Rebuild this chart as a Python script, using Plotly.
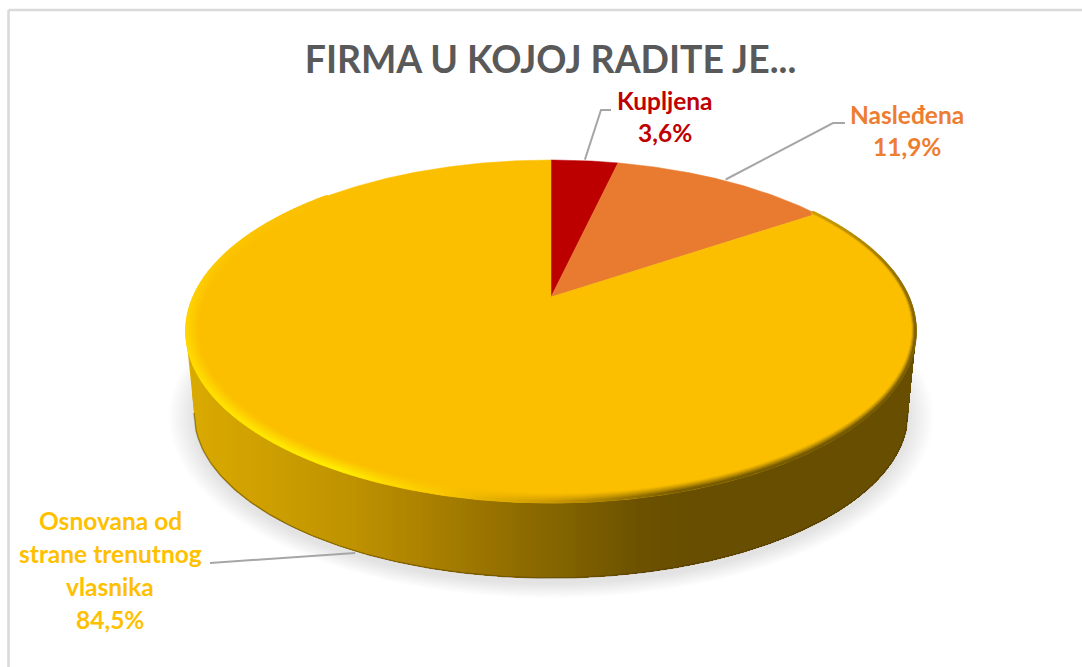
import numpy as np
import plotly.graph_objects as go

# ---- data ----
categories = ["Kupljena", "Nasleđena", "Osnovana od strane trenutnog vlasnika"]
values = [3.6, 11.9, 84.5]
percent_labels = ["3,6%", "11,9%", "84,5%"]
label_lines = [["Kupljena"], ["Nasleđena"], ["Osnovana od", "strane trenutnog", "vlasnika"]]
title_text = "FIRMA U KOJOJ RADITE JE..."

# ---- style / layout ----
W, H = 1082, 667
face_colors = ["#BC0000", "#E97B31", "#FBBF00"]
text_colors = ["#C00000", "#ED7D31", "#FFC000"]
FONT = "Lato"
CX, APEX_Y = 551, 297
A, B, K = 357.5, 164.6, 0.2012       # perspective of the disc
TOP_CY, TOP_RX, TOP_RY = 331, 365, 171.5
BOT_CY, BOT_RX, BOT_RY = 413, 357, 165
label_pos = [[(665, 100), (665, 132)], [(907, 114), (907, 146)],
             [(110, 520), (110, 553), (110, 586), (110, 619)]]
leader_elbows = [[(601, 110), (611, 110)], [(833, 123), (845, 123)], [(220, 563), (210, 563)]]
wall_stops_x = [186, 250, 293, 350, 427, 527, 560, 640, 690, 916]
wall_stops_r = [218, 208, 200, 190, 170, 140, 130, 107, 103, 103]
wall_stops_g = [170, 161, 155, 146, 128, 106, 99, 81, 78, 78]


def project(theta_deg, r=1.0):
    t = np.radians(theta_deg)
    u, v = r * np.sin(t), r * np.cos(t)
    d = 1 + K * v
    return CX + A * u / d, APEX_Y - B * v / d


fig = go.Figure()


def poly(x, y, color, opacity=1.0, lw=0.0):
    fig.add_trace(go.Scatter(x=x, y=y, mode="lines", fill="toself", fillcolor=color,
                             line=dict(color=color, width=lw), opacity=opacity,
                             hoverinfo="skip", showlegend=False))


# soft shadow
for s in np.linspace(1, 0, 14):
    a = np.linspace(0, 2 * np.pi, 240)
    poly(CX + (BOT_RX + 1 + 24 * s) * np.cos(a), BOT_CY + 4 + (BOT_RY + 2 + 14 * s) * np.sin(a),
         "#808080", 0.02)


# wall, painted strip over strip from left to right
def wall_bottom(x):
    y = np.empty_like(x, dtype=float)
    for i, xv in enumerate(x):
        dx = abs(xv - CX)
        if dx <= BOT_RX:
            y[i] = BOT_CY + BOT_RY * np.sqrt(max(0, 1 - (dx / BOT_RX) ** 2))
        else:
            y[i] = BOT_CY - (dx - BOT_RX) / (TOP_RX - BOT_RX) * (BOT_CY - TOP_CY - 4)
    return y


xs = np.arange(186, 917, 2.0)
yb = wall_bottom(xs)
for start in np.arange(186, 916, 5.0):
    m = xs >= start
    r = np.interp(start, wall_stops_x, wall_stops_r)
    g = np.interp(start, wall_stops_x, wall_stops_g)
    col = f"rgb({r:.0f},{g:.0f},0)"
    poly(np.r_[xs[m], xs[m][-1], xs[m][0]], np.r_[yb[m], TOP_CY, TOP_CY], col)
# darker rim along the bottom of the wall
fig.add_trace(go.Scatter(x=xs[4:-4], y=yb[4:-4], mode="lines",
                         line=dict(color="rgba(80,58,0,0.45)", width=1.5),
                         hoverinfo="skip", showlegend=False))

# top face slices, drawn from the values
cum = np.r_[0, np.cumsum(values)] / sum(values) * 360
for i, cat in enumerate(categories):
    th = np.linspace(cum[i], cum[i + 1], max(8, int((cum[i + 1] - cum[i]) * 3)))
    px, py = project(th)
    poly(np.r_[CX, px, CX], np.r_[APEX_Y, py, APEX_Y], face_colors[i], lw=0.5)

# bevel along the rim of the large slice
phi_stops = [-44, -20, 0, 40, 70, 90, 108, 125, 150, 180, 205, 232]
r_stops = [190, 130, 110, 105, 110, 200, 251, 255, 255, 255, 252, 251]
g_stops = [145, 100, 85, 80, 85, 150, 200, 238, 228, 215, 200, 191]
w_stops = [2.5, 3, 4, 7, 8, 9, 11, 13, 14, 13, 11, 8]
bx, by, bc = [], [], []
for d in np.arange(13.5, 0, -1.0):
    n = int(1750 * 0.8 / 1.4)
    for phi in np.linspace(-44, 232, n):
        w = np.interp(phi, phi_stops, w_stops)
        if d >= w:
            continue
        a = (1 - d / w) ** 1.2
        er, eg = np.interp(phi, phi_stops, r_stops), np.interp(phi, phi_stops, g_stops)
        t = np.radians(phi)
        bx.append(CX + (TOP_RX - d) * np.cos(t))
        by.append(TOP_CY + (TOP_RY - d) * np.sin(t))
        bc.append(f"rgb({251 + (er - 251) * a:.0f},{191 + (eg - 191) * a:.0f},0)")
fig.add_trace(go.Scatter(x=bx, y=by, mode="markers", hoverinfo="skip", showlegend=False,
                         marker=dict(size=2.6, color=bc, line=dict(width=0))))

# leader lines: from each slice's middle direction on the rim to the label
for i in range(3):
    mid = (cum[i] + cum[i + 1]) / 2
    sx, sy = project(mid, 1.01)
    if i == 2:   # the big slice's line starts on the lower edge of the wall
        sx = sx + 10
        sy = wall_bottom(np.array([sx]))[0] + 2
    ex = [sx] + [p[0] for p in leader_elbows[i]]
    ey = [sy] + [p[1] for p in leader_elbows[i]]
    fig.add_trace(go.Scatter(x=ex, y=ey, mode="lines", line=dict(color="#A6A6A6", width=2),
                             hoverinfo="skip", showlegend=False))

# labels
ann = []
for i in range(3):
    for text, (x, y) in zip(label_lines[i] + [percent_labels[i]], label_pos[i]):
        ann.append(dict(x=x, y=y, xref="x", yref="y", text=f"<b>{text}</b>", showarrow=False,
                        xanchor="center", yanchor="middle",
                        font=dict(family=FONT, size=24.5, color=text_colors[i])))

fig.update_layout(
    width=W, height=H, margin=dict(l=0, r=0, t=0, b=0), autosize=False,
    paper_bgcolor="white", plot_bgcolor="white", showlegend=False,
    title=dict(text=f"<b>{title_text}</b>", x=550.5 / W, y=1 - 60 / H, xanchor="center", yanchor="middle",
               xref="paper", yref="paper", font=dict(family=FONT, size=37.4, color="#595959")),
    xaxis=dict(range=[0, W], visible=False, fixedrange=True),
    yaxis=dict(range=[H, 0], visible=False, fixedrange=True),
    annotations=ann,
    shapes=[
        dict(type="line", xref="x", yref="y", x0=8.5, x1=W, y0=10, y1=10, line=dict(color="#D9D9D9", width=2.5)),
        dict(type="line", xref="x", yref="y", x0=8.5, x1=8.5, y0=10, y1=H, line=dict(color="#D9D9D9", width=2.5)),
    ],
)
fig.write_html("out.html", config=dict(displayModeBar=False),
               post_script="document.body.style.margin='0';")
